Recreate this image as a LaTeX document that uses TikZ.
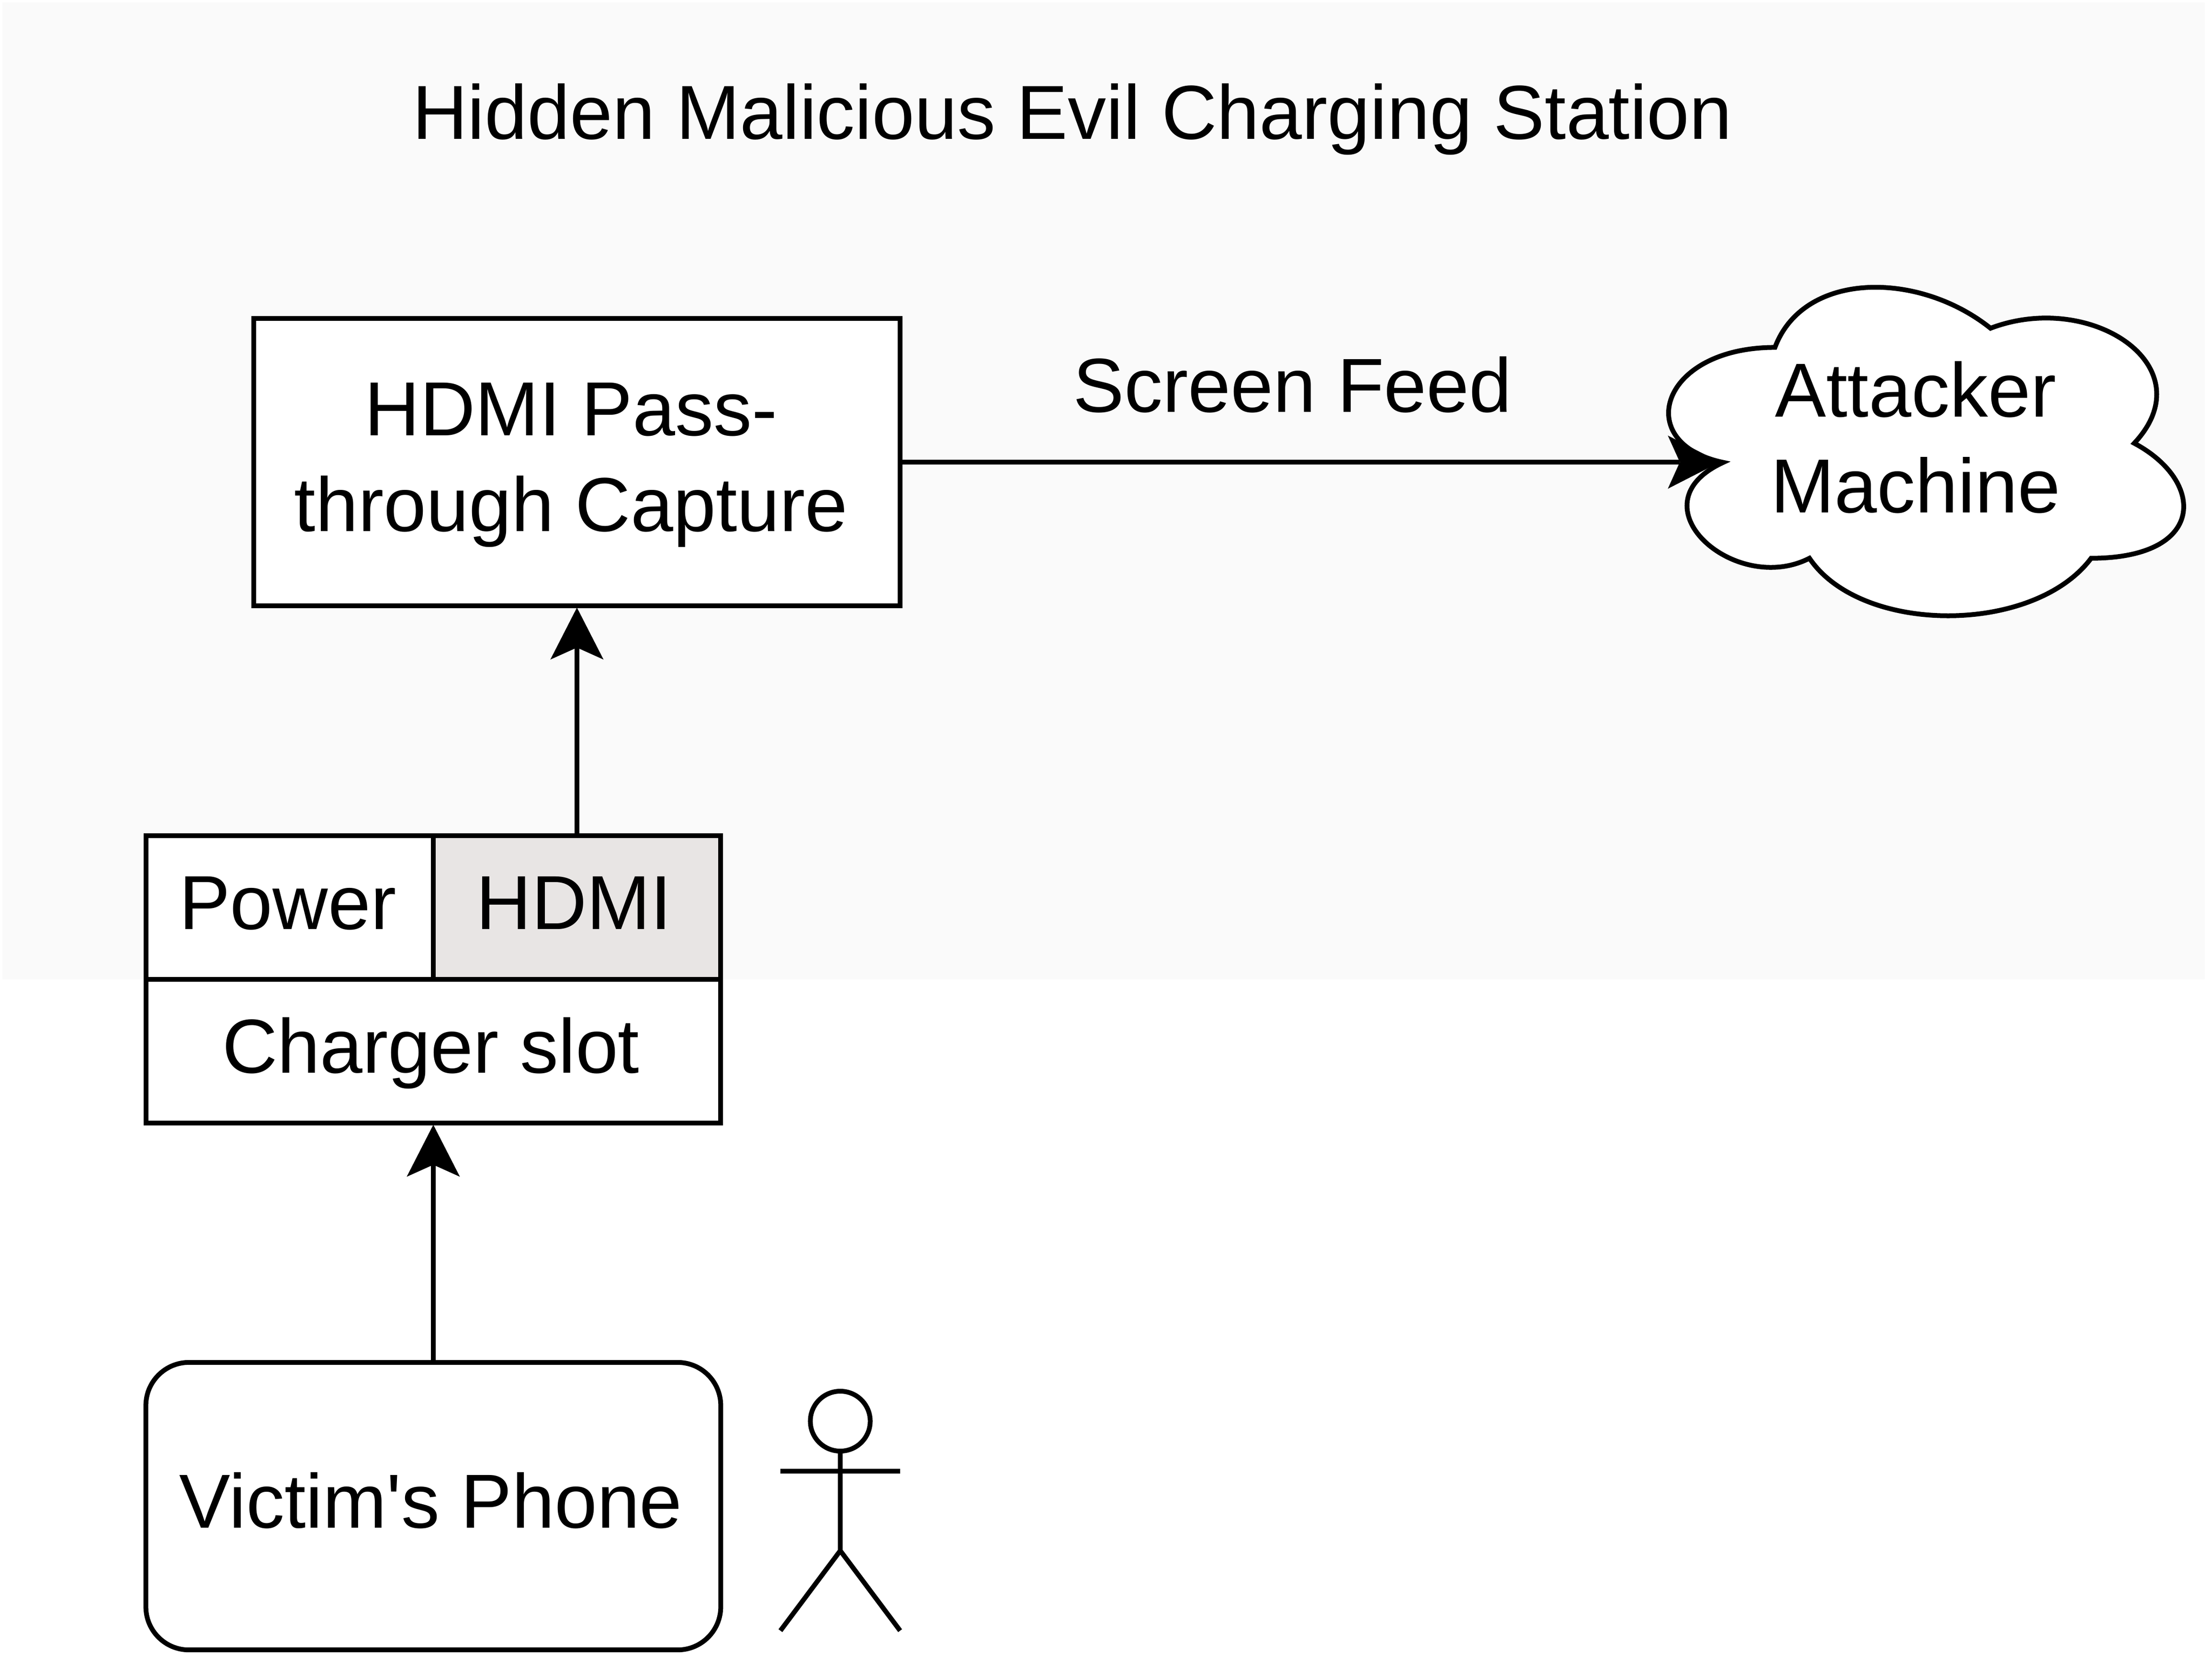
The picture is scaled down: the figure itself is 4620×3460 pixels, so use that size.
\documentclass[tikz,border=0pt]{standalone}
\usepackage{fontspec}
\newfontfamily\plainfont{Liberation Sans}
\usetikzlibrary{arrows.meta}
\definecolor{zonebg}{HTML}{FAFAFA}
\definecolor{hdmifill}{HTML}{E8E5E4}
\tikzset{
  x=0.01cm,y=-0.01cm,
  lbl/.style={font=\plainfont\fontsize{45.5}{56.7}\selectfont,inner sep=0pt,outer sep=0pt,align=center},
  boxnode/.style={lbl,draw=black,line width=0.1cm,outer sep=0.035cm,fill=white,text height=1.30cm,text depth=0.40cm},
  wire/.style={draw=black,line width=0.1cm,-{Stealth[length=1.085cm,width=1.11cm,inset=0.25cm,line width=0pt]}},
  figline/.style={draw=black,line width=0.1cm},
}
\begin{document}
\begin{tikzpicture}
\useasboundingbox (0,0) rectangle (4620,3460);
\fill[zonebg] (5,5) rectangle (4605,2045);
\node[lbl,anchor=base] (title) at (2240,290) {Hidden Malicious Evil Charging Station};
\node[boxnode,minimum width=13.50cm,minimum height=6.00cm,text height=3.30cm,text depth=0.42cm] (capture) at (1205,965) {HDMI Pass-\kern0.24cm\\through Capture\kern0.24cm};
\node[boxnode,minimum width=6.00cm,minimum height=3.00cm] (power) at (605,1895) {Power\kern0.08cm};
\node[boxnode,minimum width=6.00cm,minimum height=3.00cm,fill=hdmifill] (hdmi) at (1205,1895) {HDMI\kern0.12cm};
\node[boxnode,minimum width=12.00cm,minimum height=3.00cm] (slot) at (905,2195) {Charger slot\kern0.10cm};
\node[boxnode,minimum width=12.00cm,minimum height=6.00cm,rounded corners=0.9cm] (phone) at (905,3145) {Victim's Phone\kern0.10cm};
\begin{scope}[xshift=34.05cm,yshift=-5.25cm,x=12.00cm,y=-8.00cm]
\draw[figline,fill=white,miter limit=25] (0.25,0.25)
  .. controls (0.05,0.25) and (0,0.5) .. (0.16,0.55)
  .. controls (0,0.66) and (0.18,0.9) .. (0.31,0.8)
  .. controls (0.4,1) and (0.7,1) .. (0.8,0.8)
  .. controls (1,0.8) and (1,0.6) .. (0.875,0.5)
  .. controls (1,0.3) and (0.8,0.1) .. (0.625,0.2)
  .. controls (0.5,0.05) and (0.3,0.05) .. (0.25,0.25) -- cycle;
\end{scope}
\node[lbl,anchor=base] (attacker) at (4001,1070) {Attacker\\Machine};
\coordinate (cloudtip) at (3592,965);
\node[lbl,anchor=base] (feed) at (2700,860) {Screen Feed};
\draw[wire] (capture.east) -- (cloudtip);
\draw[wire] (hdmi.north) -- (capture.south);
\draw[wire] (phone.north) -- (slot.south);
\node[figline,draw,circle,minimum size=1.25cm,inner sep=0pt,outer sep=0pt] (head) at (1755,2967.5) {};
\coordinate (hip) at (1755,3238);
\coordinate (armL) at (1630,3071.5);
\coordinate (armR) at (1880,3071.5);
\coordinate (footL) at (1630,3405);
\coordinate (footR) at (1880,3405);
\draw[figline] (head.south) -- (hip);
\draw[figline] (armL) -- (armR);
\draw[figline] (footL) -- (hip) -- (footR);
\end{tikzpicture}
\end{document}
